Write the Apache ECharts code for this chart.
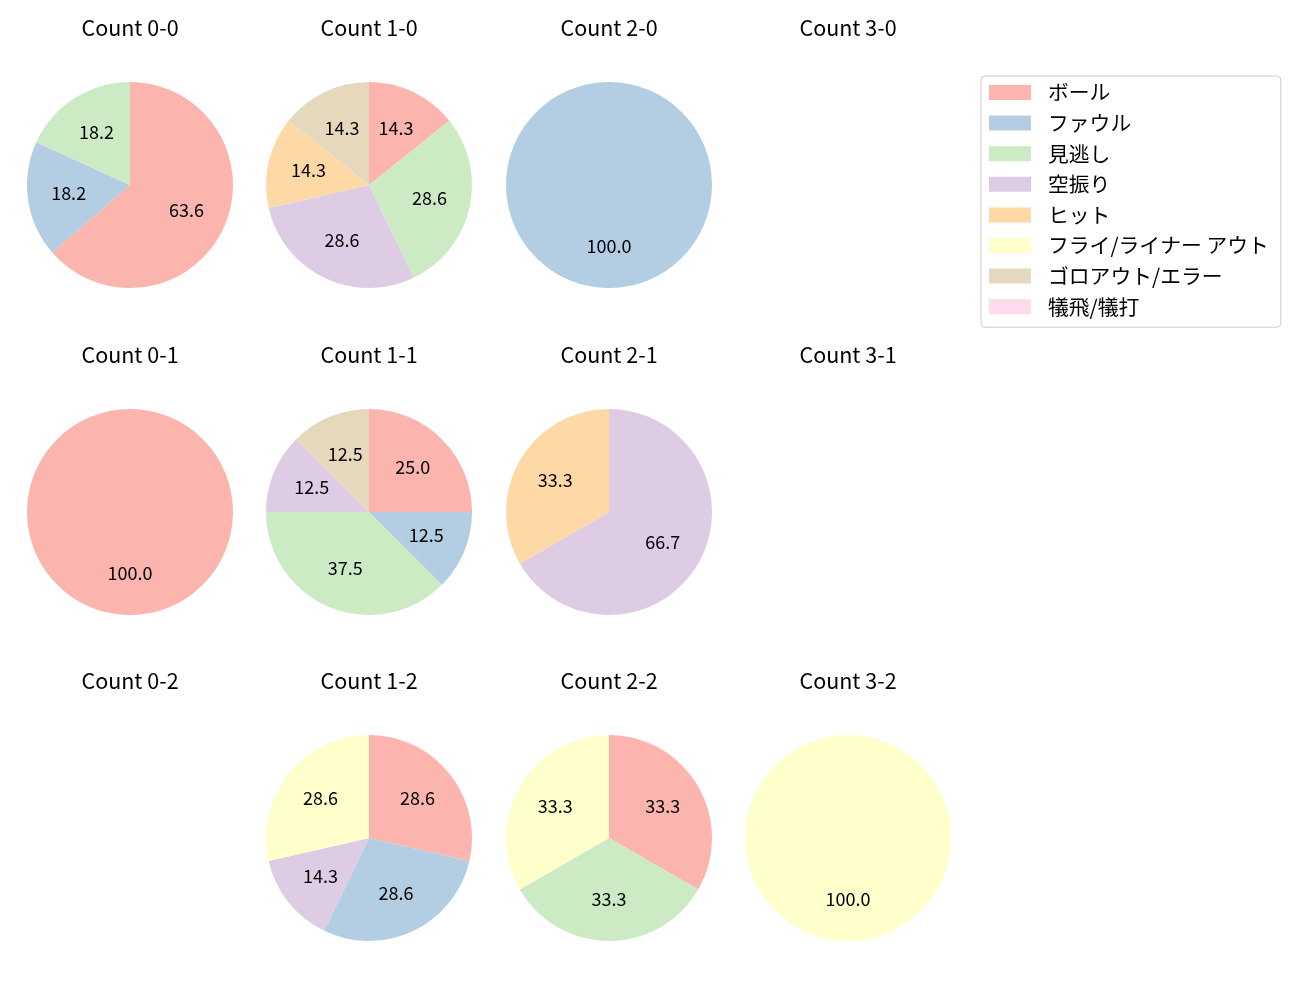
<!DOCTYPE html>
<html>
<head>
<meta charset="utf-8">
<script src="https://cdn.jsdelivr.net/npm/echarts@6/dist/echarts.min.js"></script>
<style>
html,body{margin:0;padding:0;background:#fff;}
#chart{width:1300px;height:1000px;}
</style>
</head>
<body>
<div id="chart"></div>
<script>
// Categories (legend order) and colours
const categories = ['ボール','ファウル','見逃し','空振り','ヒット','フライ/ライナー アウト','ゴロアウト/エラー','犠飛/犠打'];
const colors = ['#fbb4ae','#b3cde3','#ccebc5','#decbe4','#fed9a6','#ffffcc','#e5d8bd','#fddaec'];

// Counts (panel titles), row by row
const countLabels = ['0-0','1-0','2-0','3-0','0-1','1-1','2-1','3-1','0-2','1-2','2-2','3-2'];

// Pitch outcome counts per ball-strike count (in category order)
const c00 = [7,2,2,0,0,0,0,0];
const c10 = [1,0,2,2,1,0,1,0];
const c20 = [0,1,0,0,0,0,0,0];
const c30 = [0,0,0,0,0,0,0,0];
const c01 = [1,0,0,0,0,0,0,0];
const c11 = [2,1,3,1,0,0,1,0];
const c21 = [0,0,0,2,1,0,0,0];
const c31 = [0,0,0,0,0,0,0,0];
const c02 = [0,0,0,0,0,0,0,0];
const c12 = [2,2,0,1,0,2,0,0];
const c22 = [1,0,1,0,0,1,0,0];
const c32 = [0,0,0,0,0,1,0,0];
const countValues = [c00,c10,c20,c30,c01,c11,c21,c31,c02,c12,c22,c32];

const colX = [130, 369, 609, 848];
const rowY = [185, 512, 838];
const titleY = [28, 355, 681];
const R = 103;
const FONT = '"Noto Sans CJK JP", "Noto Sans", sans-serif';

const series = [];
const graphics = [];
countLabels.forEach((lab, i) => {
  const col = i % 4, row = Math.floor(i / 4);
  const vals = countValues[i];
  const total = vals.reduce((a, b) => a + b, 0);
  graphics.push({
    type: 'text', x: colX[col], y: titleY[row], silent: true,
    style: {
      text: 'Count ' + lab, fill: '#000',
      font: 'normal 21.5px ' + FONT,
      fontFamily: FONT, fontSize: 21.5,
      align: 'center', verticalAlign: 'middle',
      textAlign: 'center', textVerticalAlign: 'middle'
    }
  });
  if (total === 0) return;
  const data = [];
  vals.forEach((v, k) => {
    if (v > 0) data.push({name: categories[k], value: v, itemStyle: {color: colors[k]}});
  });
  series.push({
    type: 'pie', center: [colX[col], rowY[row]], radius: [0, R],
    startAngle: 90, clockwise: true, silent: true, animation: false,
    label: {show: false}, labelLine: {show: false},
    emphasis: {disabled: true},
    data: data
  });
  series.push({
    type: 'pie', center: [colX[col], rowY[row]], radius: [15, R],
    startAngle: 90, clockwise: true, silent: true, animation: false,
    avoidLabelOverlap: false,
    itemStyle: {color: 'rgba(0,0,0,0)'},
    label: {
      show: true, position: 'inside', color: '#000',
      fontFamily: FONT, fontSize: 18, offset: [0, -1],
      formatter: p => (p.value / total * 100).toFixed(1)
    },
    labelLine: {show: false},
    emphasis: {disabled: true},
    data: data.map(d => ({name: d.name, value: d.value, itemStyle: {color: 'rgba(0,0,0,0)'}}))
  });
});

// dummy series so every category exists for the legend
series.unshift({
  type: 'pie', center: [-500, -500], radius: [0, 1], silent: true, animation: false,
  label: {show: false}, labelLine: {show: false},
  data: categories.map((c, k) => ({name: c, value: 1, itemStyle: {color: colors[k]}}))
});

const chart = echarts.init(document.getElementById('chart'), null, {renderer: 'canvas'});
chart.setOption({
  animation: false,
  graphic: graphics,
  legend: {
    orient: 'vertical',
    left: 981, top: 76,
    padding: [6, 12, 10, 8],
    itemWidth: 42, itemHeight: 15, itemGap: 9.6,
    icon: 'rect',
    selectedMode: false,
    borderColor: '#cccccc', borderWidth: 1, borderRadius: 4,
    backgroundColor: 'rgba(255,255,255,0.8)',
    textStyle: {fontFamily: FONT, fontSize: 20.8, lineHeight: 21, color: '#000', padding: [0, 0, 0, 12]},
    data: categories.map((c, k) => ({name: c, itemStyle: {color: colors[k]}}))
  },
  series: series
});
</script>
</body>
</html>
